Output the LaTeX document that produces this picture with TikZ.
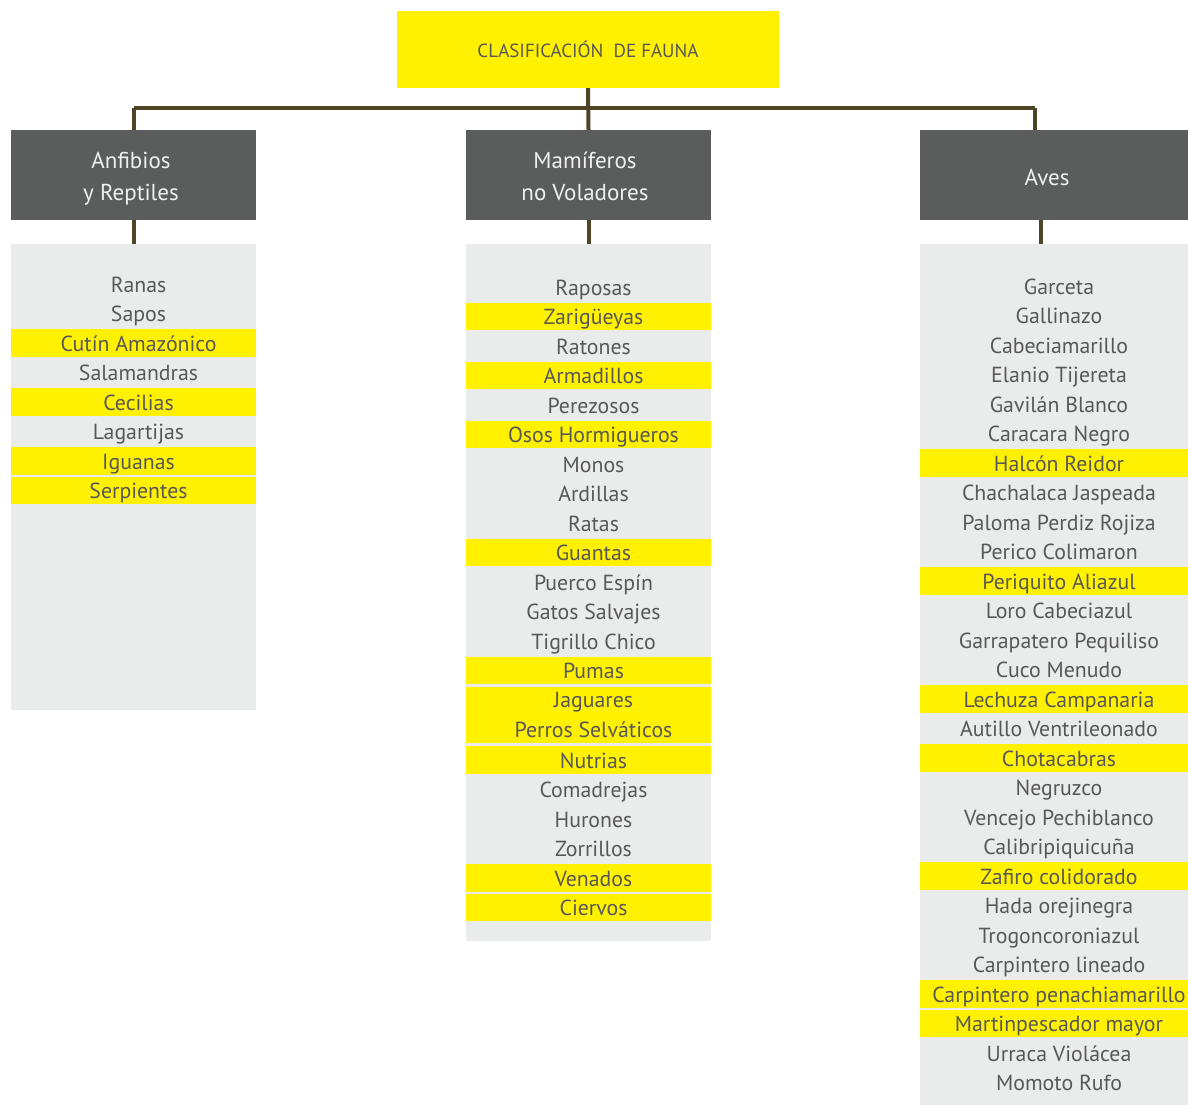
\documentclass[tikz,border=0pt]{standalone}
\usepackage{fontspec}
\setmainfont{PT Sans}
\usetikzlibrary{calc}
\definecolor{hlyellow}{HTML}{FFF100}
\definecolor{headgray}{HTML}{5B5C5C}
\definecolor{panelgray}{HTML}{EAEBEB}
\definecolor{txtgray}{HTML}{585858}
\definecolor{linkcol}{HTML}{4E4426}
\tikzset{
  titlebox/.style={fill=hlyellow, text=txtgray, minimum width=382pt, minimum height=77pt,
    inner sep=0pt, font=\fontsize{19}{20}\selectfont},
  headbox/.style={fill=headgray, text=white!94!black, minimum height=90pt, inner sep=0pt},
  headtext/.style={text=white!94!black, inner sep=0pt, align=center,
    font=\fontsize{23}{32}\selectfont},
  panel/.style={fill=panelgray, inner sep=0pt, anchor=north west},
  item/.style={text=txtgray, inner sep=0pt, text height=17pt, text depth=1pt,
    font=\fontsize{21.8}{29.5}\selectfont},
  hl/.style={item, fill=hlyellow, minimum height=27.5pt},
  link/.style={draw=linkcol, line width=4pt}
}
\newcommand{\itemlist}[5]{%
  % #1 prefix, #2 centre x, #3 first y, #4 band width, #5 entries text/flag
  \foreach \t/\f [count=\k from 0] in {#5}{
    \pgfmathsetmacro{\yy}{#3+29.5*\k}
    \ifnum\f=1
      \node[hl, minimum width=#4] (#1\k) at (#2,\yy) {\hspace*{10pt}\t};
    \else
      \node[item] (#1\k) at (#2,\yy) {\hspace*{10pt}\t};
    \fi
  }}
\begin{document}
\begin{tikzpicture}[x=1pt,y=-1pt]
\useasboundingbox (0,0) rectangle (1188,1105);

% title
\node[titlebox] (title) at (588,49.5) {CLASIFICACIÓN\ \ DE FAUNA};

% group headers
\node[headbox, minimum width=245pt] (anf) at (133.5,175) {};
\node[headbox, minimum width=245pt] (mam) at (588.5,175) {};
\node[headbox, minimum width=268pt] (aves) at (1054,175) {};
\node[headtext] (anfT) at (131,179) {Anfibios\\y Reptiles};
\node[headtext] (mamT) at (585,176) {Mamíferos\\no Voladores};
\node[headtext] (avesT) at (1047,177) {Aves};

% list panels
\node[panel, minimum width=245pt, minimum height=466pt] (pA) at (11,244) {};
\node[panel, minimum width=245pt, minimum height=697pt] (pM) at (466,244) {};
\node[panel, minimum width=268pt, minimum height=861pt] (pV) at (920,244) {};

% connectors
\coordinate (barL) at (133.5,108);
\coordinate (barR) at (1035,108);
\draw[link] (barL) -- (barR);
\draw[link] (title.south) -- (mam.north);
\draw[link] (barL) -- (anf.north);
\draw[link] (barR) -- (barR |- aves.north);
\draw[link] (anf.south) -- (anf.south |- pA.north);
\draw[link] (mam.south) -- (mam.south |- pM.north);
\draw[link] ([xshift=-13pt]aves.south) -- ([xshift=-13pt]aves.south |- pV.north);

% amphibians and reptiles
\itemlist{a}{133.5}{284}{245pt}{Ranas/0,Sapos/0,Cutín Amazónico/1,Salamandras/0,Cecilias/1,Lagartijas/0,Iguanas/1,Serpientes/1}

% non-flying mammals
\itemlist{m}{588.5}{287}{245pt}{Raposas/0,Zarigüeyas/1,Ratones/0,Armadillos/1,Perezosos/0,Osos Hormigueros/1,Monos/0,Ardillas/0,Ratas/0,Guantas/1,Puerco Espín/0,Gatos Salvajes/0,Tigrillo Chico/0,Pumas/1}
\node[item, fill=hlyellow, minimum width=245pt, minimum height=56pt, align=center,
  text height=, text depth=] (mj) at (588.5,715) {\hspace*{10pt}Jaguares\\\hspace*{10pt}Perros Selváticos};
\itemlist{n}{588.5}{760}{245pt}{Nutrias/1,Comadrejas/0,Hurones/0,Zorrillos/0,Venados/1,Ciervos/1}

% birds
\itemlist{v}{1054}{286}{268pt}{Garceta/0,Gallinazo/0,Cabeciamarillo/0,Elanio Tijereta/0,Gavilán Blanco/0,Caracara Negro/0,Halcón Reidor/1,Chachalaca Jaspeada/0,Paloma Perdiz Rojiza/0,Perico Colimaron/0,Periquito Aliazul/1,Loro Cabeciazul/0,Garrapatero Pequiliso/0,Cuco Menudo/0,Lechuza Campanaria/1,Autillo Ventrileonado/0,Chotacabras/1,Negruzco/0,Vencejo Pechiblanco/0,Calibripiquicuña/0,Zafiro colidorado/1,Hada orejinegra/0,Trogoncoroniazul/0,Carpintero lineado/0,Carpintero penachiamarillo/1,Martinpescador mayor/1,Urraca Violácea/0,Momoto Rufo/0}
\end{tikzpicture}
\end{document}
